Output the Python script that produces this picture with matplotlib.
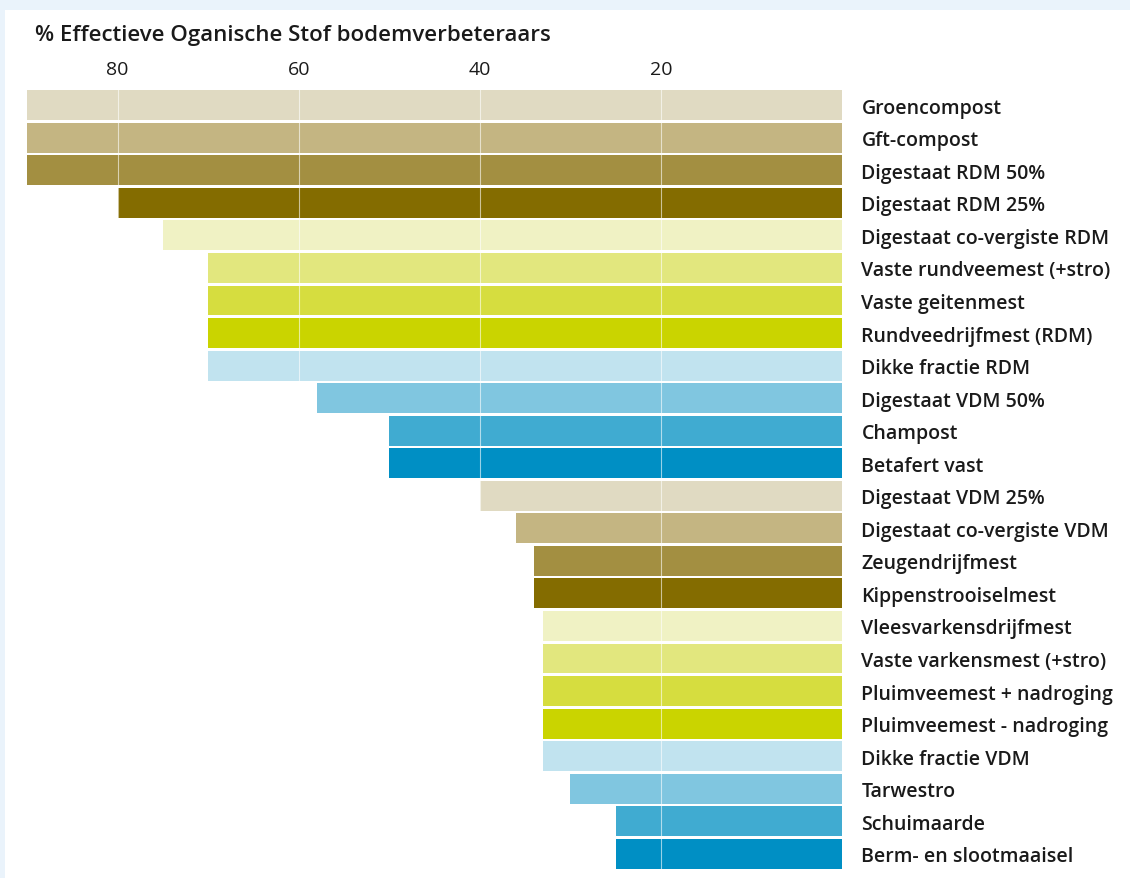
import numpy as np
import matplotlib.pyplot as plt
from matplotlib.patches import Rectangle

labels = ['Groencompost', 'Gft-compost', 'Digestaat RDM 50%', 'Digestaat RDM 25%',
          'Digestaat co-vergiste RDM', 'Vaste rundveemest (+stro)', 'Vaste geitenmest',
          'Rundveedrijfmest (RDM)', 'Dikke fractie RDM', 'Digestaat VDM 50%', 'Champost',
          'Betafert vast', 'Digestaat VDM 25%', 'Digestaat co-vergiste VDM', 'Zeugendrijfmest',
          'Kippenstrooiselmest', 'Vleesvarkensdrijfmest', 'Vaste varkensmest (+stro)',
          'Pluimveemest + nadroging', 'Pluimveemest - nadroging', 'Dikke fractie VDM',
          'Tarwestro', 'Schuimaarde', 'Berm- en slootmaaisel']
values = [90, 90, 90, 80, 75, 70, 70, 70, 70, 58, 50, 50,
          40, 36, 34, 34, 33, 33, 33, 33, 33, 30, 25, 25]
palette = ['#e0dac2', '#c4b582', '#a38f41', '#846c00', '#f0f2c4', '#e2e77e',
           '#d6dd3f', '#cad400', '#c1e3ef', '#80c6e0', '#40abd1', '#008fc4']
xticks = [80, 60, 40, 20]

plt.rcParams['font.family'] = ['Open Sans', 'DejaVu Sans']

W, H = 1130, 879
fig = plt.figure(figsize=(W / 100, H / 100), dpi=100)
fig.patch.set_facecolor('#eaf3fb')
fig.patches.append(Rectangle((5 / W, 0), 1, 1 - 11 / H, transform=fig.transFigure,
                             facecolor='white', edgecolor='none', zorder=-10))

# axes: x from 27px (90) to 842px (0), y from 90px to 871px
ax = fig.add_axes([27 / W, 1 - 871 / H, (842 - 27) / W, (871 - 90) / H])
ax.set_facecolor('none')
n = len(labels)
y = np.arange(n)
colors = [palette[i % len(palette)] for i in range(n)]
ax.barh(y, values, height=0.92, color=colors, zorder=1)
ax.set_xlim(90, 0)
ax.set_ylim(n - 0.5, -0.5)

for xt in xticks:
    ax.axvline(xt, color='white', lw=0.8, alpha=0.6, zorder=2)

ax.xaxis.tick_top()
ax.set_xticks(xticks)
ax.set_xticklabels([str(t) for t in xticks], fontsize=14, color='#1a1a1a')
ax.tick_params(axis='x', length=0, pad=8)
ax.yaxis.tick_right()
ax.set_yticks(y)
ax.set_yticklabels(labels, fontsize=14, fontweight='semibold', color='#1a1a1a')
ax.tick_params(axis='y', length=0, pad=14)
for s in ax.spines.values():
    s.set_visible(False)

fig.text(35 / W, 1 - 35 / H, '% Effectieve Oganische Stof bodemverbeteraars',
         fontsize=16, fontweight='semibold', color='#1a1a1a', va='center', ha='left')

fig.savefig('out.png', dpi=100)
